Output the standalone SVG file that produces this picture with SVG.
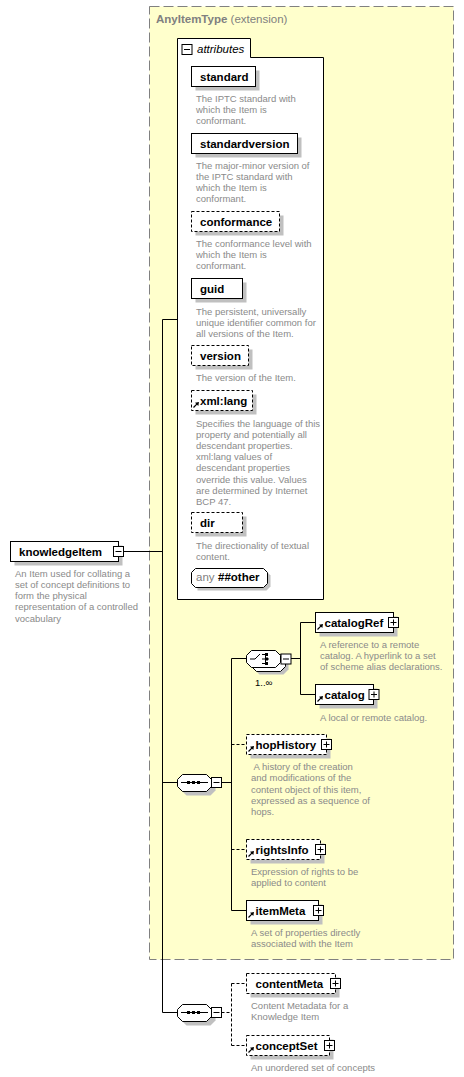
<svg xmlns="http://www.w3.org/2000/svg" xmlns:xlink="http://www.w3.org/1999/xlink" width="464" height="1077" viewBox="0 0 464 1077">
<style>
.bg{fill:#fff}
.box{fill:#fff;stroke:#000;stroke-width:1}
.opt{fill:#fff;stroke:#000;stroke-width:1;stroke-dasharray:3 2}
.sh{fill:#c0c0c0}
.lbl{font-family:"Liberation Sans",Arial,sans-serif;font-weight:bold;font-size:11.5px;fill:#000}
.desc{font-family:"Liberation Sans",Arial,sans-serif;font-size:9.5px;fill:#8a8a8a}
.ttl{font-family:"Liberation Sans",Arial,sans-serif;font-size:11.5px;fill:#808080}
.ln{stroke:#000;stroke-width:1;fill:none}
.dl{stroke:#000;stroke-width:1;fill:none;stroke-dasharray:3 2}
.ext{fill:#ffffcc;stroke:#808080;stroke-width:1;stroke-dasharray:10 4}
</style>
<defs>
<g id="plus"><rect x="0.5" y="0.5" width="10" height="10" fill="#fff" stroke="#000"/><path d="M2.5 5.5H8.5M5.5 2.5V8.5" stroke="#000" fill="none"/></g>
<g id="minus"><rect x="0.5" y="0.5" width="10" height="10" fill="#fff" stroke="#000"/><path d="M2.5 5.5H8.5" stroke="#000" fill="none"/></g>
<g id="ref"><path d="M1 8L4.8 4.2" stroke="#000" stroke-width="1.2" fill="none"/><path d="M6.5 2.5L2.5 3.2L5.8 6.5Z" fill="#000"/></g>
</defs>

<rect width="464" height="1077" class="bg"/>

<g id="extension">
<rect class="ext" x="149.5" y="6.5" width="304" height="953"/>
<text class="ttl" x="156" y="23"><tspan font-weight="bold">AnyItemType</tspan> (extension)</text>
</g>

<g id="connectors">
<path class="ln" d="M123 551.5H162.5M162.5 319.5V1012.5M162.5 319.5H177.5M162.5 782.5H177.5M162.5 1012.5H177.5"/>
<path class="ln" d="M221.5 782.5H231.5M231.5 658.5V910.5M231.5 658.5H246.5M231.5 910.5H246.5"/>
<path class="dl" d="M231.5 744.5H246.5M231.5 849.5H246.5"/>
<path class="ln" d="M290.5 658.5H300.5M300.5 622.5V694.5M300.5 622.5H315.5M300.5 694.5H315.5"/>
<path class="dl" d="M221.5 1012.5H231.5M231.5 983.5V1045.5M231.5 983.5H246.5M231.5 1045.5H246.5"/>
</g>

<g id="attributes">
<path class="box" d="M177.5 599.5V38.5H250.5V57.5H323.5V599.5Z"/>
<use href="#minus" x="181.5" y="44"/>
<text x="197" y="53" style="font-family:'Liberation Sans',Arial,sans-serif;font-size:11.5px;font-style:italic">attributes</text>
</g>

<g id="attr-standard">
<rect class="sh" x="195.5" y="70.5" width="64" height="20"/>
<rect class="box" x="191.5" y="66.5" width="64" height="20"/>
<text class="lbl" x="200" y="80.5">standard</text>
<text class="desc" x="196" y="101.7"><tspan x="196">The IPTC standard with</tspan><tspan x="196" dy="11.2">which the Item is</tspan><tspan x="196" dy="11.2">conformant.</tspan></text>
</g>

<g id="attr-standardversion">
<rect class="sh" x="195.5" y="137.5" width="106" height="20"/>
<rect class="box" x="191.5" y="133.5" width="106" height="20"/>
<text class="lbl" x="200" y="147.5">standardversion</text>
<text class="desc" x="196" y="168.5"><tspan x="196">The major-minor version of</tspan><tspan x="196" dy="11.2">the IPTC standard with</tspan><tspan x="196" dy="11.2">which the Item is</tspan><tspan x="196" dy="11.2">conformant.</tspan></text>
</g>

<g id="attr-conformance">
<rect class="sh" x="195.5" y="215.5" width="88" height="20"/>
<rect class="opt" x="191.5" y="211.5" width="88" height="20"/>
<text class="lbl" x="200" y="225.5">conformance</text>
<text class="desc" x="196" y="247"><tspan x="196">The conformance level with</tspan><tspan x="196" dy="11.2">which the Item is</tspan><tspan x="196" dy="11.2">conformant.</tspan></text>
</g>

<g id="attr-guid">
<rect class="sh" x="195.5" y="282.5" width="51" height="20"/>
<rect class="box" x="191.5" y="278.5" width="51" height="20"/>
<text class="lbl" x="200" y="292.5">guid</text>
<text class="desc" x="196" y="314.5"><tspan x="196">The persistent, universally</tspan><tspan x="196" dy="11.2">unique identifier common for</tspan><tspan x="196" dy="11.2">all versions of the Item.</tspan></text>
</g>

<g id="attr-version">
<rect class="sh" x="195.5" y="349.5" width="57" height="20"/>
<rect class="opt" x="191.5" y="345.5" width="57" height="20"/>
<text class="lbl" x="200" y="359.5">version</text>
<text class="desc" x="196" y="381">The version of the Item.</text>
</g>

<g id="attr-xmllang">
<rect class="sh" x="195.5" y="394.5" width="61" height="20"/>
<rect class="opt" x="191.5" y="390.5" width="61" height="20"/>
<use href="#ref" x="192.5" y="399.5"/>
<text class="lbl" x="200" y="404.5">xml:lang</text>
<text class="desc" x="196" y="426.5"><tspan x="196">Specifies the language of this</tspan><tspan x="196" dy="11.2">property and potentially all</tspan><tspan x="196" dy="11.2">descendant properties.</tspan><tspan x="196" dy="11.2">xml:lang values of</tspan><tspan x="196" dy="11.2">descendant properties</tspan><tspan x="196" dy="11.2">override this value. Values</tspan><tspan x="196" dy="11.2">are determined by Internet</tspan><tspan x="196" dy="11.2">BCP 47.</tspan></text>
</g>

<g id="attr-dir">
<rect class="sh" x="195.5" y="516.5" width="51" height="20"/>
<rect class="opt" x="191.5" y="512.5" width="51" height="20"/>
<text class="lbl" x="200" y="526.5">dir</text>
<text class="desc" x="196" y="548.5"><tspan x="196">The directionality of textual</tspan><tspan x="196" dy="11.2">content.</tspan></text>
</g>

<g id="attr-any">
<path class="sh" d="M197.5 571.5H266.5L270.5 575.5V586.5L266.5 590.5H197.5Z"/>
<path class="box" d="M195.5 568.5H263.5L267.5 572.5V583.5L263.5 587.5H195.5L191.5 583.5V572.5Z"/>
<text x="196" y="581" style="font-family:'Liberation Sans',Arial,sans-serif;font-size:11.5px;fill:#808080">any</text>
<text class="lbl" x="218" y="581">##other</text>
</g>

<g id="knowledgeItem">
<rect class="sh" x="14.5" y="545.5" width="108" height="20"/>
<rect class="box" x="10.5" y="541.5" width="108" height="20"/>
<text class="lbl" x="19" y="556">knowledgeItem</text>
<use href="#minus" x="113" y="546"/>
<text class="desc" x="15" y="576.8"><tspan x="15">An Item used for collating a</tspan><tspan x="15" dy="11.2">set of concept definitions to</tspan><tspan x="15" dy="11.2">form the physical</tspan><tspan x="15" dy="11.2">representation of a controlled</tspan><tspan x="15" dy="11.2">vocabulary</tspan></text>
</g>

<g id="sequence1">
<path class="sh" d="M186.5 778.5H210.5L215.5 783.5V790.5L210.5 795.5H186.5L181.5 790.5V783.5Z"/>
<path class="box" d="M182.5 774.5H206.5L211.5 779.5V786.5L206.5 791.5H182.5L177.5 786.5V779.5Z"/>
<path class="ln" d="M181 782.5H208"/>
<rect x="187" y="781" width="3" height="3"/><rect x="192" y="781" width="3" height="3"/><rect x="197" y="781" width="3" height="3"/>
<use href="#minus" x="211" y="777"/>
</g>

<g id="choice">
<path class="sh" d="M259.5 657.5H283.5L288.5 662.5V669.5L283.5 674.5H259.5L254.5 669.5V662.5Z"/>
<path class="box" d="M256.5 654.5H280.5L285.5 659.5V666.5L280.5 671.5H256.5L251.5 666.5V659.5Z"/>
<path class="box" d="M251.5 650.5H275.5L280.5 655.5V662.5L275.5 667.5H251.5L246.5 662.5V655.5Z"/>
<path class="ln" d="M250 659H255L260 654M262 654.5H265.5V663.5H262M262 659H269"/>
<rect x="265" y="653" width="3" height="3"/><rect x="265" y="657.5" width="3" height="3"/><rect x="265" y="662" width="3" height="3"/>
<use href="#minus" x="280.5" y="653.5"/>
<text x="255" y="686" style="font-family:'Liberation Sans',Arial,sans-serif;font-size:9.5px;fill:#000">1..∞</text>
</g>

<g id="catalogRef">
<rect class="sh" x="319.5" y="616.5" width="78" height="20"/>
<rect class="box" x="315.5" y="612.5" width="78" height="20"/>
<use href="#ref" x="316.5" y="621.5"/>
<text class="lbl" x="324.5" y="626.5">catalogRef</text>
<use href="#plus" x="388" y="617"/>
<text class="desc" x="320" y="647.8"><tspan x="320">A reference to a remote</tspan><tspan x="320" dy="11.2">catalog. A hyperlink to a set</tspan><tspan x="320" dy="11.2">of scheme alias declarations.</tspan></text>
</g>

<g id="catalog">
<rect class="sh" x="319.5" y="688.5" width="58" height="20"/>
<rect class="box" x="315.5" y="684.5" width="58" height="20"/>
<use href="#ref" x="316.5" y="693.5"/>
<text class="lbl" x="324.5" y="698.5">catalog</text>
<use href="#plus" x="368.5" y="689"/>
<text class="desc" x="320" y="720.8">A local or remote catalog.</text>
</g>

<g id="hopHistory">
<rect class="sh" x="250.5" y="738.5" width="80" height="20"/>
<rect class="opt" x="246.5" y="734.5" width="80" height="20"/>
<use href="#ref" x="247.5" y="743.5"/>
<text class="lbl" x="255.5" y="748.5">hopHistory</text>
<use href="#plus" x="321" y="739"/>
<text class="desc" x="251" y="770.2"><tspan x="253.6">A history of the creation</tspan><tspan x="251" dy="11.2">and modifications of the</tspan><tspan x="251" dy="11.2">content object of this item,</tspan><tspan x="251" dy="11.2">expressed as a sequence of</tspan><tspan x="251" dy="11.2">hops.</tspan></text>
</g>

<g id="rightsInfo">
<rect class="sh" x="250.5" y="843.5" width="74" height="20"/>
<rect class="opt" x="246.5" y="839.5" width="74" height="20"/>
<use href="#ref" x="247.5" y="848.5"/>
<text class="lbl" x="255.5" y="853.5">rightsInfo</text>
<use href="#plus" x="315" y="844"/>
<text class="desc" x="251" y="875.2"><tspan x="251">Expression of rights to be</tspan><tspan x="251" dy="11.2">applied to content</tspan></text>
</g>

<g id="itemMeta">
<rect class="sh" x="250.5" y="904.5" width="72" height="20"/>
<rect class="box" x="246.5" y="900.5" width="72" height="20"/>
<use href="#ref" x="247.5" y="909.5"/>
<text class="lbl" x="255.5" y="914.5">itemMeta</text>
<use href="#plus" x="313" y="905"/>
<text class="desc" x="251" y="936.2"><tspan x="251">A set of properties directly</tspan><tspan x="251" dy="11.2">associated with the Item</tspan></text>
</g>

<g id="sequence2">
<path class="sh" d="M186.5 1008.5H210.5L215.5 1013.5V1020.5L210.5 1025.5H186.5L181.5 1020.5V1013.5Z"/>
<path class="box" d="M182.5 1004.5H206.5L211.5 1009.5V1016.5L206.5 1021.5H182.5L177.5 1016.5V1009.5Z"/>
<path class="ln" d="M181 1012.5H208"/>
<rect x="187" y="1011" width="3" height="3"/><rect x="192" y="1011" width="3" height="3"/><rect x="197" y="1011" width="3" height="3"/>
<use href="#minus" x="211" y="1007"/>
</g>

<g id="contentMeta">
<rect class="sh" x="250.5" y="977.5" width="89" height="20"/>
<rect class="opt" x="246.5" y="973.5" width="89" height="20"/>
<text class="lbl" x="255.5" y="987.5">contentMeta</text>
<use href="#plus" x="330" y="978"/>
<text class="desc" x="251" y="1009.2"><tspan x="251">Content Metadata for a</tspan><tspan x="251" dy="11.2">Knowledge Item</tspan></text>
</g>

<g id="conceptSet">
<rect class="sh" x="250.5" y="1039.5" width="83" height="20"/>
<rect class="opt" x="246.5" y="1035.5" width="83" height="20"/>
<use href="#ref" x="247.5" y="1044.5"/>
<text class="lbl" x="255.5" y="1049.5">conceptSet</text>
<use href="#plus" x="324" y="1040"/>
<text class="desc" x="251" y="1070.8">An unordered set of concepts</text>
</g>
</svg>
